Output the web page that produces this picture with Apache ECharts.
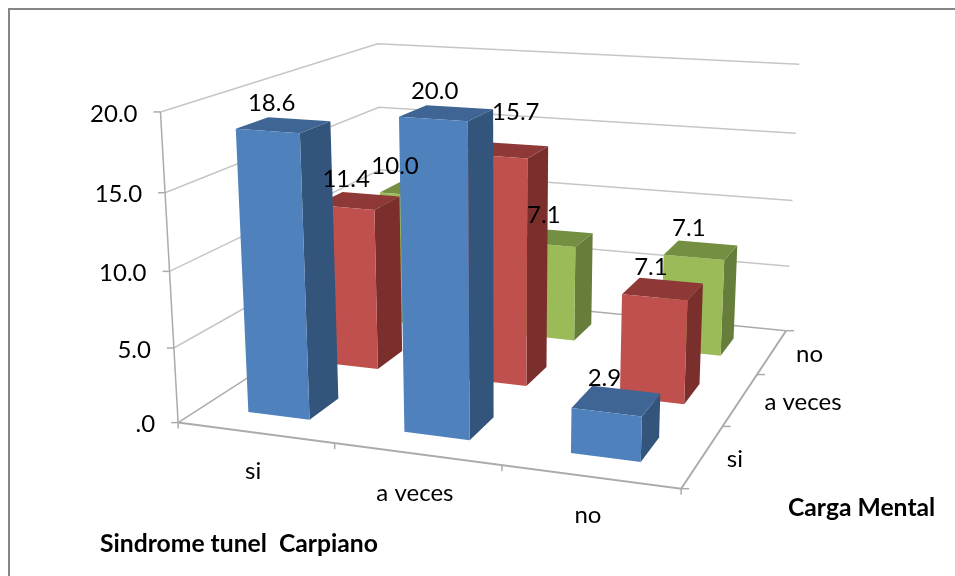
<!DOCTYPE html>
<html>
<head>
<meta charset="utf-8">
<style>
html, body { margin: 0; padding: 0; background: #fff; overflow: hidden; }
#main { width: 955px; height: 576px; }
</style>
<script src="https://cdn.jsdelivr.net/npm/echarts@6/dist/echarts.min.js"></script>
</head>
<body>
<div id="main"></div>
<script>
/** data */
const cats = ['si', 'a veces', 'no'];        // Sindrome tunel Carpiano
const rows = ['si', 'a veces', 'no'];        // Carga Mental
const valuesSi = [18.6, 20.0, 2.9];
const valuesAveces = [11.4, 15.7, 7.1];
const valuesNo = [10.0, 7.1, 7.1];
const valueTicks = [0, 5, 10, 15, 20];
const valueTickLabels = ['.0', '5.0', '10.0', '15.0', '20.0'];

/** config */
const MAX_VALUE = 20;
const BAR_SHARE = 0.4; // part of a cell taken by the bar
const FONT = '24px Lato, sans-serif';
const FONT_BOLD = 'bold 24.7px Lato, sans-serif';
const palette = [
    {front: '#4f81bd', top: '#3e6593', side: '#33547b'},
    {front: '#c0504d', top: '#8e3937', side: '#7b2f2d'},
    {front: '#9bbb59', top: '#748f41', side: '#667e39'}
];

// box and bar corners on the page: [along categories, along depth, value] -> [x, y]
const anchors = [
    [0, 0, 0, 178, 422], [1, 0, 0, 682, 488], [1, 1, 0, 785, 330], [0, 1, 0, 388, 292],
    [0, 0, 5, 173, 347], [0, 0, 10, 170, 271], [0, 0, 15, 166, 193], [0, 0, 20, 162, 112],
    [0, 1, 20, 373, 43], [1, 1, 20, 800, 64], [1, 1, 15, 796, 134], [1, 1, 10, 793, 200],
    [1, 1, 5, 788, 266],
    [0.1, 0.1, 18.6, 236, 129], [0.1, 0.1, 0, 246, 412],
    [0.2333, 0.1, 18.6, 301, 133], [0.2333, 0.1, 0, 307, 419],
    [0.4333, 0.1, 20, 400, 117], [0.4333, 0.1, 0, 403, 433],
    [0.5667, 0.1, 20, 468, 122], [0.5667, 0.1, 0, 470, 440],
    [0.7667, 0.1, 2.9, 572, 409], [0.7667, 0.1, 0, 572, 454],
    [0.9, 0.1, 2.9, 642, 416], [0.9, 0.1, 0, 640, 462]
];

/** least squares for the 3x4 perspective matrix */
const fitCamera = function(points) {
    var size = 11;
    var ata = [];
    for (var i = 0; i < size; i++) ata.push(new Array(size + 1).fill(0));
    var addRow = function(row, rhs) {
        for (var r = 0; r < size; r++) {
            for (var c = 0; c < size; c++) ata[r][c] += row[r] * row[c];
            ata[r][size] += row[r] * rhs;
        }
    };
    points.forEach(function(p) {
        var u = p[0], w = p[1], v = p[2] / MAX_VALUE, x = p[3] / 1000, y = p[4] / 1000;
        addRow([u, w, v, 1, 0, 0, 0, 0, -x * u, -x * w, -x * v], x);
        addRow([0, 0, 0, 0, u, w, v, 1, -y * u, -y * w, -y * v], y);
    });
    for (var k = 0; k < size; k++) {
        var best = k;
        for (var m = k + 1; m < size; m++) {
            if (Math.abs(ata[m][k]) > Math.abs(ata[best][k])) best = m;
        }
        var tmp = ata[k]; ata[k] = ata[best]; ata[best] = tmp;
        for (var n = 0; n < size; n++) {
            if (n === k) continue;
            var f = ata[n][k] / ata[k][k];
            for (var j = k; j <= size; j++) ata[n][j] -= f * ata[k][j];
        }
    }
    return ata.map(function(row, idx) { return row[size] / row[idx]; });
};

const cam = fitCamera(anchors);

const project = function(u, w, value) {
    var v = value / MAX_VALUE;
    var d = cam[8] * u + cam[9] * w + cam[10] * v + 1;
    return [
        1000 * (cam[0] * u + cam[1] * w + cam[2] * v + cam[3]) / d,
        1000 * (cam[4] * u + cam[5] * w + cam[6] * v + cam[7]) / d
    ];
};

const line = function(points, color, width) {
    return {
        type: 'polyline',
        shape: {points: points},
        style: {stroke: color, lineWidth: width, fill: null}
    };
};

const label = function(text, x, y, font, align) {
    return {
        type: 'text',
        x: x,
        y: y,
        style: {text: text, fill: '#000', font: font, align: align, verticalAlign: 'middle'}
    };
};

/** walls, floor, ticks and axis labels */
const renderFrame = function() {
    var children = [];
    var gridColor = '#c6c6c6';
    var axisColor = '#ababab';
    valueTicks.forEach(function(t, i) {
        var a = project(0, 0, t);
        children.push(line([a, project(0, 1, t), project(1, 1, t)], t === 0 ? axisColor : gridColor, 1.5));
        children.push(line([[a[0] - 7, a[1]], a], axisColor, 1.5));
        children.push(label(valueTickLabels[i], a[0] - 23, a[1] + 2, FONT, 'right'));
    });
    children.push(line([project(0, 0, 0), project(0, 0, MAX_VALUE)], axisColor, 1.5));
    children.push(line([project(0, 0, 0), project(1, 0, 0), project(1, 1, 0)], axisColor, 2));
    for (var i = 0; i <= cats.length; i++) {
        var a = project(i / cats.length, 0, 0);
        children.push(line([a, [a[0], a[1] + 6]], axisColor, 1.5));
        var d = project(1, i / rows.length, 0);
        children.push(line([d, [d[0] + 8, d[1]]], axisColor, 1.5));
    }
    cats.forEach(function(name, i) {
        var p = project((i + 0.5) / cats.length, 0, 0);
        children.push(label(name, p[0] - 2, p[1] + 39, FONT, 'center'));
    });
    rows.forEach(function(name, i) {
        var p = project(1, (i + 0.5) / rows.length, 0);
        children.push(label(name, p[0] + 24, p[1] + 3, FONT, 'left'));
    });
    return {type: 'group', children: children};
};

/** one 3d bar, only the three faces the viewer can see */
const renderBar = function(params, api) {
    var cat = api.value(0), row = api.value(1), value = api.value(2);
    var pad = (1 - BAR_SHARE) / 2;
    var u0 = (cat + pad) / cats.length, u1 = (cat + 1 - pad) / cats.length;
    var w0 = (row + pad) / rows.length, w1 = (row + 1 - pad) / rows.length;
    var colors = palette[row];
    var face = function(points, fill) {
        return {type: 'polygon', shape: {points: points}, style: {fill: fill}};
    };
    return {
        type: 'group',
        children: [
            face([project(u1, w0, 0), project(u1, w1, 0), project(u1, w1, value), project(u1, w0, value)], colors.side),
            face([project(u0, w0, value), project(u1, w0, value), project(u1, w1, value), project(u0, w1, value)], colors.top),
            face([project(u0, w0, 0), project(u1, w0, 0), project(u1, w0, value), project(u0, w0, value)], colors.front)
        ]
    };
};

const renderValueLabel = function(params, api) {
    var cat = api.value(0), row = api.value(1), value = api.value(2);
    var p = project((cat + 0.5) / cats.length, (row + 0.5) / rows.length, value);
    var dx = -12, dy = -22;
    // two labels sit away from their bars in the picture
    if (cat === 1 && row === 1) { dx = 9; dy = -38; }
    if (cat === 0 && row === 2) { dx = -23; }
    return label(value.toFixed(1), p[0] + dx, p[1] + dy, FONT, 'center');
};

const rowValues = [valuesSi, valuesAveces, valuesNo];
const barData = function(row) {
    return rowValues[row].map(function(v, cat) { return [cat, row, v]; });
};

// back row first so the front bars cover it
const barSeries = [2, 1, 0].map(function(row) {
    return {
        type: 'custom',
        name: rows[row],
        coordinateSystem: 'none',
        silent: true,
        z: 3,
        renderItem: renderBar,
        data: barData(row)
    };
});

const myChart = echarts.init(document.getElementById('main'), null, {renderer: 'canvas'});
myChart.setOption({
    animation: false,
    backgroundColor: '#fff',
    graphic: [
        {
            type: 'rect',
            silent: true,
            z: 0,
            shape: {x: 9, y: 9, width: 970, height: 590},
            style: {fill: null, stroke: '#868686', lineWidth: 2}
        },
        {
            type: 'text',
            silent: true,
            x: 100,
            y: 544,
            style: {text: 'Sindrome tunel  Carpiano', fill: '#000', font: FONT_BOLD, verticalAlign: 'middle'}
        },
        {
            type: 'text',
            silent: true,
            x: 788,
            y: 508,
            style: {text: 'Carga Mental', fill: '#000', font: FONT_BOLD, verticalAlign: 'middle'}
        }
    ],
    series: [
        {
            type: 'custom',
            coordinateSystem: 'none',
            silent: true,
            z: 2,
            renderItem: renderFrame,
            data: [[0]]
        }
    ].concat(barSeries, [
        {
            type: 'custom',
            coordinateSystem: 'none',
            silent: true,
            z: 5,
            renderItem: renderValueLabel,
            data: barData(0).concat(barData(1), barData(2))
        }
    ])
});
</script>
</body>
</html>
